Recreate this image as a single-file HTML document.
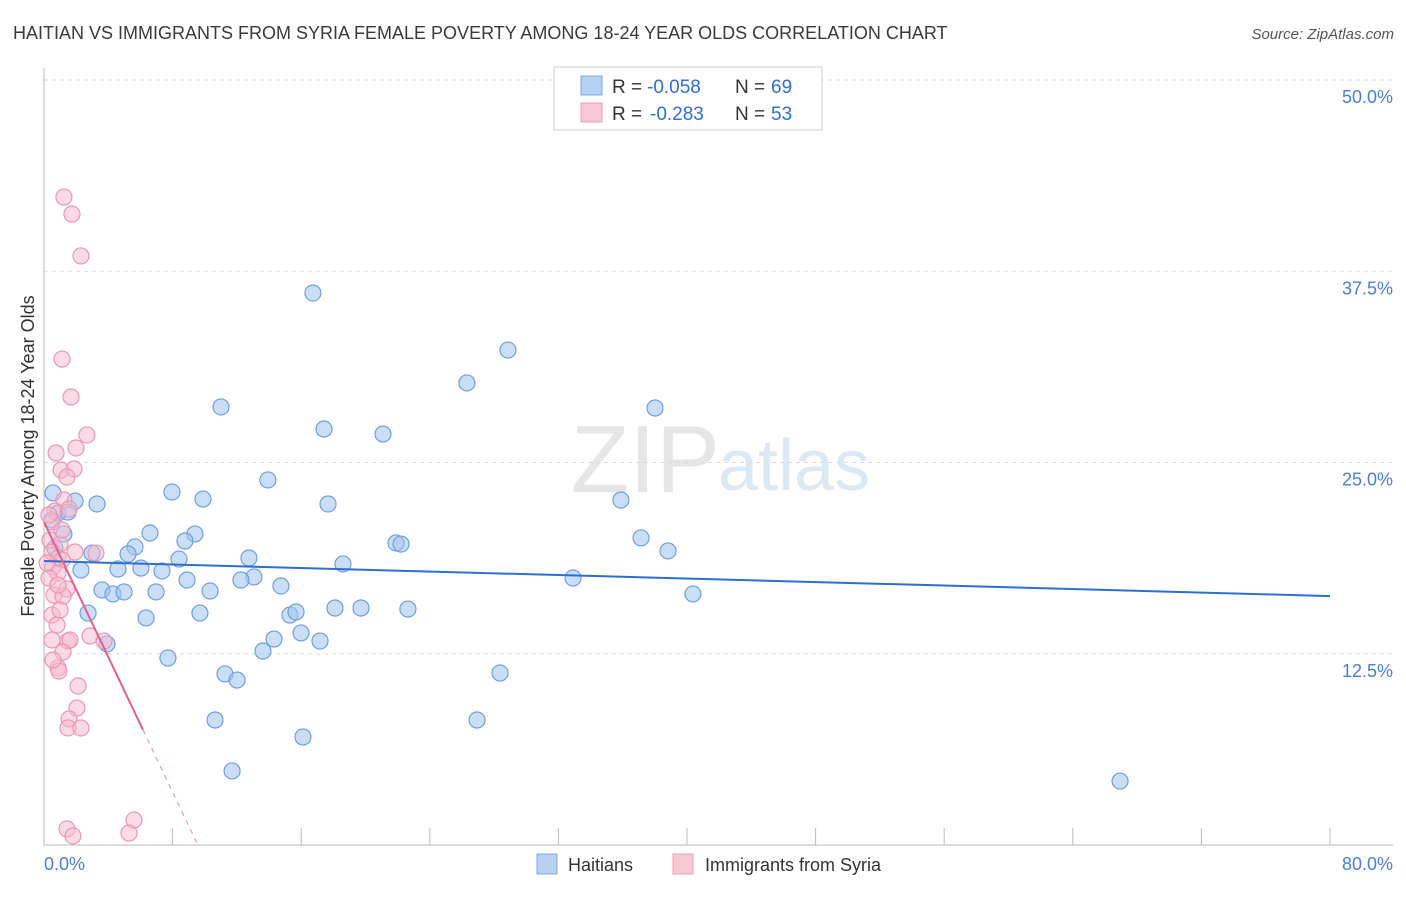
<!DOCTYPE html>
<html><head><meta charset="utf-8"><style>
body{margin:0;background:#fff;font-family:"Liberation Sans",sans-serif}
svg text{font-family:"Liberation Sans",sans-serif}
</style></head><body>
<svg id="chart" width="1406" height="892" xmlns="http://www.w3.org/2000/svg">
<text x="13" y="39" font-size="18" fill="#3a3a3a">HAITIAN VS IMMIGRANTS FROM SYRIA FEMALE POVERTY AMONG 18-24 YEAR OLDS CORRELATION CHART</text>
<text x="1394" y="39" font-size="15" fill="#555" font-style="italic" text-anchor="end">Source: ZipAtlas.com</text>
<text x="720" y="492" font-size="96" fill="#e6e6e6" text-anchor="end" font-family="Liberation Serif">ZIP</text>
<text x="718" y="490" font-size="72" fill="#dde8f5">atlas</text>
<g id="grid"></g>
<g id="axes"></g>
<g id="marks"></g>
<text transform="translate(34,456) rotate(-90)" font-size="18" fill="#333" text-anchor="middle">Female Poverty Among 18-24 Year Olds</text>
<text x="44" y="870" font-size="18" fill="#4a7fd6">0.0%</text>
<text x="1393" y="870" font-size="18" fill="#4a7fd6" text-anchor="end">80.0%</text>
<g>
<rect x="554" y="67" width="268" height="63" fill="#fff" stroke="#ccc"/>
<rect x="581" y="76" width="21" height="19" fill="#b7d1f3" stroke="#7fa8e3"/>
<rect x="581" y="103" width="21" height="19" fill="#f9c8d7" stroke="#ef9db7"/>
<text x="612" y="93" font-size="19" fill="#333">R =</text>
<text x="647" y="93" font-size="19" fill="#2e6fd0">-0.058</text>
<text x="735" y="93" font-size="19" fill="#333">N =</text>
<text x="771" y="93" font-size="19" fill="#2e6fd0">69</text>
<text x="612" y="120" font-size="19" fill="#333">R =</text>
<text x="650" y="120" font-size="19" fill="#2e6fd0">-0.283</text>
<text x="735" y="120" font-size="19" fill="#333">N =</text>
<text x="771" y="120" font-size="19" fill="#2e6fd0">53</text>
</g>
<g>
<rect x="537" y="854" width="20" height="20" fill="#b7d1f3" stroke="#7fa8e3"/>
<text x="568" y="871" font-size="18" fill="#333">Haitians</text>
<rect x="673" y="854" width="20" height="20" fill="#f9c8d7" stroke="#ef9db7"/>
<text x="705" y="871" font-size="18" fill="#333">Immigrants from Syria</text>
</g>
</svg>
<script>
const yTicks=[12.5,25,37.5,50];
const yTickLabels=["12.5%","25.0%","37.5%","50.0%"];
const xTicks=[0,8,16,24,32,40,48,56,64,72,80];
const haitiansX=[16.73,28.86,26.31,38.01,11.01,17.42,21.09,13.93,7.96,9.89,3.30,1.93,17.67,0.56,0.87,1.49,1.24,6.59,9.39,8.77,5.66,35.89,37.14,38.82,21.90,22.21,2.99,5.23,12.75,8.40,18.60,2.30,4.60,6.03,7.34,13.06,8.90,12.25,14.74,32.91,3.61,4.29,4.98,6.97,10.33,40.37,2.74,6.35,9.70,15.30,15.68,18.10,19.72,22.64,3.92,14.31,15.99,17.17,13.62,7.71,11.26,12.01,28.37,10.64,26.94,16.11,11.70,66.94,0.68,0.50];
const haitiansY=[36.08,32.35,30.2,28.56,28.63,27.19,26.86,23.86,23.07,22.61,22.29,22.48,22.29,23.01,21.70,21.76,20.33,20.39,20.33,19.87,19.48,22.55,20.07,19.22,19.74,19.67,19.08,19.02,18.76,18.69,18.37,17.97,18.04,18.10,17.91,17.52,17.32,17.32,16.93,17.45,16.67,16.41,16.54,16.54,16.60,16.41,15.16,14.84,15.16,15.03,15.23,15.49,15.49,15.42,13.14,13.46,13.86,13.33,12.68,12.22,11.18,10.78,11.24,8.17,8.17,7.06,4.84,4.18,19.41,21.24];
const syriaX=[1.24,1.74,2.30,1.12,1.68,2.67,0.75,1.99,1.06,1.87,1.43,1.24,0.68,0.50,1.56,0.37,1.00,1.93,3.23,0.50,0.87,1.12,0.56,0.87,0.31,1.43,0.62,1.18,0.50,0.81,2.86,3.73,1.49,1.62,0.50,1.18,0.87,0.93,2.12,2.05,1.56,1.49,2.30,0.56,1.12,0.31,0.19,5.60,5.29,1.43,1.80,1.00,0.87];
const syriaY=[42.35,41.24,38.50,31.76,29.28,26.80,25.62,25.95,24.51,24.58,24.05,22.55,21.83,21.11,21.96,19.93,19.67,19.15,19.08,19.15,18.76,18.63,18.17,17.78,17.45,16.73,16.34,16.27,15.03,14.38,13.66,13.33,13.33,13.40,13.40,12.61,11.57,11.37,10.39,8.95,8.24,7.65,7.65,12.09,20.59,21.57,18.43,1.63,0.78,1.05,0.59,15.36,16.99];
const haitiansTrend=[18.56,16.27];
const syriaTrend=[21.11,-2.206];
const syriaSolidEnd=6.16;

const NS="http://www.w3.org/2000/svg";
const X=v=>44+v/80*1286;
const Y=v=>845-v*15.3;
function mk(tag,attrs,parent){const e=document.createElementNS(NS,tag);for(const k in attrs)e.setAttribute(k,attrs[k]);parent.appendChild(e);return e;}
const grid=document.getElementById('grid'),axes=document.getElementById('axes'),marks=document.getElementById('marks');
yTicks.forEach((t,i)=>{
 const l=mk('line',{x1:44,x2:1393,y1:Y(t),y2:Y(t),stroke:'#dcdcdc','stroke-dasharray':'4,4'},grid);
 
 
 const tx=mk('text',{x:1393,y:Y(t)+23,'font-size':18,fill:'#4a7fd6','text-anchor':'end'},grid);
 tx.textContent=yTickLabels[i];
 
 
});
const ax=mk('line',{x1:44,x2:1393,y1:845,y2:845,stroke:'#bbb'},axes);


const ay=mk('line',{x1:44,x2:44,y1:68,y2:845,stroke:'#bbb'},axes);


xTicks.forEach(t=>{
 const l=mk('line',{x1:X(t),x2:X(t),y1:828,y2:845,stroke:'#bbb'},axes);
 
 
});
haitiansX.forEach((v,i)=>{
 const c=mk('circle',{cx:X(v),cy:Y(haitiansY[i]),r:8,fill:'rgba(160,195,240,0.55)',stroke:'#6f9fe0','stroke-width':1.2},marks);
 
 
});
syriaX.forEach((v,i)=>{
 const c=mk('circle',{cx:X(v),cy:Y(syriaY[i]),r:8,fill:'rgba(248,185,205,0.5)',stroke:'#ee95b2','stroke-width':1.2},marks);
 
 
});
const hl=mk('line',{x1:X(0),y1:Y(haitiansTrend[0]),x2:X(80),y2:Y(haitiansTrend[1]),stroke:'#2c6fd1','stroke-width':2},marks);


const sy=x=>syriaTrend[0]+syriaTrend[1]*x;
const zeroX=-syriaTrend[0]/syriaTrend[1];
const sl=mk('line',{x1:X(0),y1:Y(sy(0)),x2:X(syriaSolidEnd),y2:Y(sy(syriaSolidEnd)),stroke:'#e0608f','stroke-width':2},marks);


const sd=mk('line',{x1:X(syriaSolidEnd),y1:Y(sy(syriaSolidEnd)),x2:X(zeroX),y2:Y(0),stroke:'#e99ab5','stroke-width':1.2,'stroke-dasharray':'5,5'},marks);


</script>
</body></html>
